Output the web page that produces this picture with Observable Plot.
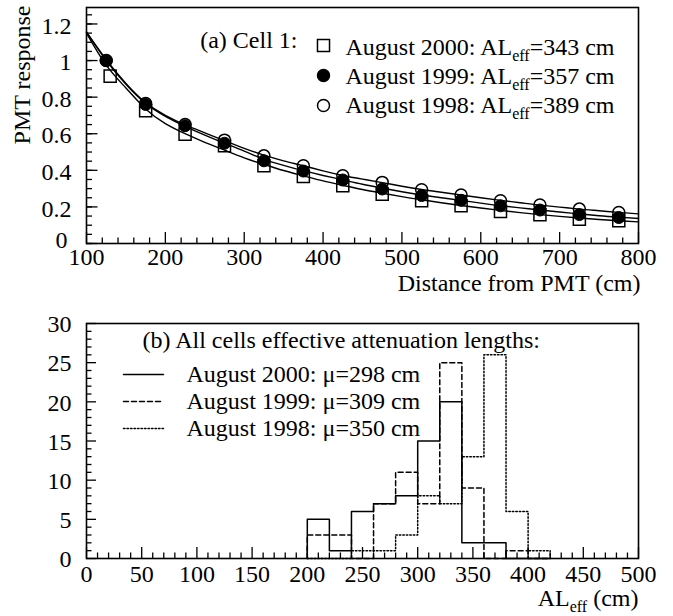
<!DOCTYPE html>
<html><head><meta charset="utf-8">
<script src="https://cdn.jsdelivr.net/npm/d3@7"></script>
<script src="https://cdn.jsdelivr.net/npm/@observablehq/plot@0.6"></script>
<style>
body{margin:0;background:#fff;}
#chart{width:673px;}
#chart svg{display:block;}
</style></head><body><div id="chart"></div>
<script>
const FONT = "Liberation Serif, Times New Roman, Times, serif";

// ---------- Panel (a): PMT response vs distance ----------
const distance = [125,175,225,275,325,375,425,475,525,575,625,675,725,775];
const distance2000 = [130,175,225,275,325,375,425,475,525,575,625,675,725,775];
const resp2000 = [0.915,0.726,0.598,0.535,0.425,0.367,0.316,0.270,0.234,0.206,0.175,0.157,0.133,0.124];
const resp1999 = [1.0,0.76,0.644,0.548,0.452,0.396,0.347,0.298,0.262,0.236,0.206,0.183,0.158,0.142];
const resp1998 = [1.0,0.765,0.65,0.565,0.479,0.425,0.370,0.334,0.294,0.265,0.234,0.210,0.188,0.170];

const fitX = [100,125,150,175,200,225,250,275,300,325,350,375,400,425,450,475,500,525,550,575,600,625,650,675,700,725,750,775,800];
const fit1998 = [1.155,1.005,0.875,0.77,0.70,0.648,0.605,0.562,0.52,0.483,0.452,0.425,0.397,0.372,0.352,0.333,0.313,0.295,0.28,0.265,0.25,0.236,0.223,0.21,0.199,0.188,0.179,0.17,0.162];
const fit1999 = [1.155,1.0,0.87,0.765,0.695,0.64,0.592,0.548,0.505,0.46,0.427,0.398,0.372,0.348,0.324,0.303,0.283,0.265,0.25,0.236,0.221,0.207,0.195,0.183,0.172,0.162,0.152,0.144,0.137];
const fit2000 = [1.15,0.975,0.85,0.735,0.655,0.6,0.553,0.51,0.468,0.432,0.399,0.37,0.342,0.318,0.295,0.275,0.256,0.239,0.223,0.208,0.194,0.181,0.169,0.158,0.148,0.139,0.131,0.124,0.118];

const xTicksA = [100,200,300,400,500,600,700,800];
const yTicksA = [0,0.2,0.4,0.6,0.8,1,1.2];
const legendA = ["August 2000: AL_eff=343 cm","August 1999: AL_eff=357 cm","August 1998: AL_eff=389 cm"];
const titleA = "(a) Cell 1:";
const xLabelA = "Distance from PMT (cm)";
const yLabelA = "PMT response";

// ---------- Panel (b): histogram of effective attenuation lengths ----------
const binStart = [200,220,240,260,280,300,320,340,360,380,400];
const binWidth = 20;
const count2000 = [5,1,6,7,8,15,20,2,2,0,0];
const count1999 = [3,3,0,7,11,7,25,9,0,1,0];
const count1998 = [0,0,1,1,3,8,7,13,26,6,1];
const xTicksB = [0,50,100,150,200,250,300,350,400,450,500];
const yTicksB = [0,5,10,15,20,25,30];
const legendB = ["August 2000: μ=298 cm","August 1999: μ=309 cm","August 1998: μ=350 cm"];
const titleB = "(b) All cells effective attenuation lengths:";
const xLabelB = "AL_eff (cm)";

const styles = [{dash: null}, {dash: "5,3"}, {dash: "1.5,2"}];

function stepData(counts) {
  const pts = [{x: binStart[0], y: 0}];
  binStart.forEach((b, i) => pts.push({x: b, y: counts[i]}));
  pts.push({x: binStart[binStart.length - 1] + binWidth, y: 0});
  return pts;
}

function lineShape() {
  return {draw(context, l) { context.moveTo(0, 0); context.lineTo(0, -l); }};
}

function subscriptify(svg) {
  d3.select(svg).selectAll("text").each(function () {
    const t = this.textContent;
    const i = t.indexOf("_eff");
    if (i < 0) return;
    const sel = d3.select(this);
    sel.text(null);
    sel.append("tspan").text(t.slice(0, i));
    sel.append("tspan").attr("dy", "6px").attr("font-size", "16px").text("eff");
    sel.append("tspan").attr("dy", "-6px").text(t.slice(i + 4));
  });
}

const base = {fontFamily: FONT, fontSize: "24px", color: "black", background: "white"};

// ----- Panel (a)
const WA = 673, HA = 300, mlA = 86, mrA = 35, mtA = 7, mbA = 57;
const iwA = WA - mlA - mrA, ihA = HA - mtA - mbA;

const pts = (xs, ys) => xs.map((x, i) => ({x, y: ys[i]}));

const marksA = [
  Plot.ruleX(d3.range(100, 801, 20).filter(v => v % 100 !== 0), {x: d => d, insetTop: ihA - 5.5, strokeWidth: 1.3}),
  Plot.ruleX(xTicksA, {x: d => d, insetTop: ihA - 11, strokeWidth: 1.3}),
  Plot.ruleY(d3.range(0, 1.2501, 0.05).map(v => +v.toFixed(2)), {y: d => d, insetRight: iwA - 6, strokeWidth: 1.3}),
  Plot.ruleY(yTicksA, {y: d => d, insetRight: iwA - 11.5, strokeWidth: 1.3}),
  Plot.axisX({ticks: xTicksA, tickSize: 0, tickPadding: 4, label: null}),
  Plot.axisY({ticks: yTicksA.filter(v => v !== 0), tickSize: 0, tickPadding: 15, dy: 2, label: null, tickFormat: d => String(d)}),
  Plot.axisY({ticks: [0], tickSize: 0, tickPadding: 19, dy: -3, label: null, tickFormat: d => String(d)}),
  Plot.dot(pts(distance2000, resp2000), {x: "x", y: "y", symbol: "square", r: 6.8, stroke: "black", fill: "white", strokeWidth: 1.5}),
  Plot.dot(pts(distance, resp1998), {x: "x", y: "y", symbol: "circle", r: 6, stroke: "black", fill: "white", strokeWidth: 1.5}),
  Plot.dot(pts(distance, resp1999), {x: "x", y: "y", symbol: "circle", r: 6, stroke: "black", fill: "black", strokeWidth: 1}),
  Plot.line(pts(fitX, fit1998), {x: "x", y: "y", curve: "natural", strokeWidth: 1.4}),
  Plot.line(pts(fitX, fit1999), {x: "x", y: "y", curve: "natural", strokeWidth: 1.4}),
  Plot.line(pts(fitX, fit2000), {x: "x", y: "y", curve: "natural", strokeWidth: 1.4}),
  Plot.frame({strokeWidth: 1.6}),
  Plot.text([titleA], {text: d => d, frameAnchor: "top-left", dx: 211, dy: 33, textAnchor: "end", lineAnchor: "middle"}),
  Plot.text([xLabelA], {text: d => d, frameAnchor: "bottom-right", dx: 2, dy: 40, textAnchor: "end", lineAnchor: "middle"}),
  Plot.text([yLabelA], {text: d => d, frameAnchor: "top-left", dx: -64, dy: -2, textAnchor: "end", lineAnchor: "middle", rotate: -90})
];
const legendSymbols = [
  {symbol: "square", fill: "white", r: 6.8},
  {symbol: "circle", fill: "black", r: 6},
  {symbol: "circle", fill: "white", r: 6}
];
legendA.forEach((label, i) => {
  marksA.push(Plot.dot([label], {frameAnchor: "top-left", dx: 237, dy: 38 + 30 * i, symbol: legendSymbols[i].symbol, r: legendSymbols[i].r, fill: legendSymbols[i].fill, stroke: "black", strokeWidth: 1.5}));
  marksA.push(Plot.text([label], {text: d => d, frameAnchor: "top-left", dx: 259, dy: 40 + 29 * i, textAnchor: "start", lineAnchor: "middle"}));
});

const plotA = Plot.plot({
  width: WA, height: HA, marginLeft: mlA, marginRight: mrA, marginTop: mtA, marginBottom: mbA,
  style: base,
  x: {domain: [100, 800]},
  y: {domain: [0, 1.29]},
  marks: marksA
});

// ----- Panel (b)
const WB = 673, HB = 316, mlB = 86, mrB = 35, mtB = 23, mbB = 58;
const iwB = WB - mlB - mrB, ihB = HB - mtB - mbB;

const marksB = [
  Plot.ruleX(d3.range(0, 501, 10).filter(v => v % 50 !== 0), {x: d => d, insetTop: ihB - 5.5, strokeWidth: 1.3}),
  Plot.ruleX(xTicksB, {x: d => d, insetTop: ihB - 11, strokeWidth: 1.3}),
  Plot.ruleY(d3.range(0, 31, 1).filter(v => v % 5 !== 0), {y: d => d, insetRight: iwB - 5.5, strokeWidth: 1.3}),
  Plot.ruleY(yTicksB, {y: d => d, insetRight: iwB - 10, strokeWidth: 1.3}),
  Plot.axisX({ticks: xTicksB, tickSize: 0, tickPadding: 6, label: null}),
  Plot.axisY({ticks: yTicksB, tickSize: 0, tickPadding: 15, dy: 1, label: null}),
  Plot.line(stepData(count1998), {x: "x", y: "y", curve: "step-after", strokeWidth: 1.5, strokeDasharray: styles[2].dash}),
  Plot.line(stepData(count1999), {x: "x", y: "y", curve: "step-after", strokeWidth: 1.5, strokeDasharray: styles[1].dash}),
  Plot.line(stepData(count2000), {x: "x", y: "y", curve: "step-after", strokeWidth: 1.5}),
  Plot.frame({strokeWidth: 1.6}),
  Plot.text([titleB], {text: d => d, frameAnchor: "top-left", dx: 56, dy: 17, textAnchor: "start", lineAnchor: "middle"}),
  Plot.text([xLabelB], {text: d => d, frameAnchor: "bottom-right", dx: 0, dy: 40, textAnchor: "end", lineAnchor: "middle"})
];
let vectorOK = true;
legendB.forEach((label, i) => {
  try {
    marksB.push(Plot.vector([label], {frameAnchor: "top-left", dx: 37, dy: 51 + 27 * i, length: 40, rotate: 90, anchor: "start", shape: lineShape(), stroke: "black", strokeWidth: 1.5, strokeDasharray: styles[i].dash}));
  } catch (e) { vectorOK = false; }
  marksB.push(Plot.text([label], {text: d => d, frameAnchor: "top-left", dx: 100, dy: 51 + 27 * i, textAnchor: "start", lineAnchor: "middle"}));
});

let plotB;
const optsB = {
  width: WB, height: HB, marginLeft: mlB, marginRight: mrB, marginTop: mtB, marginBottom: mbB,
  style: base,
  x: {domain: [0, 500]},
  y: {domain: [0, 30]}
};
try {
  plotB = Plot.plot({...optsB, marks: marksB});
} catch (e) {
  vectorOK = false;
  plotB = Plot.plot({...optsB, marks: marksB.filter(m => !(m && m.constructor && m.constructor.name === "Vector"))});
}
if (!vectorOK) {
  const g = d3.select(plotB).append("g").attr("stroke", "black").attr("stroke-width", 1.5);
  legendB.forEach((label, i) => {
    g.append("line").attr("x1", mlB + 37).attr("x2", mlB + 77).attr("y1", mtB + 51 + 27 * i).attr("y2", mtB + 51 + 27 * i)
      .attr("stroke-dasharray", styles[i].dash);
  });
}

subscriptify(plotA);
subscriptify(plotB);
document.getElementById("chart").append(plotA, plotB);
</script></body></html>
